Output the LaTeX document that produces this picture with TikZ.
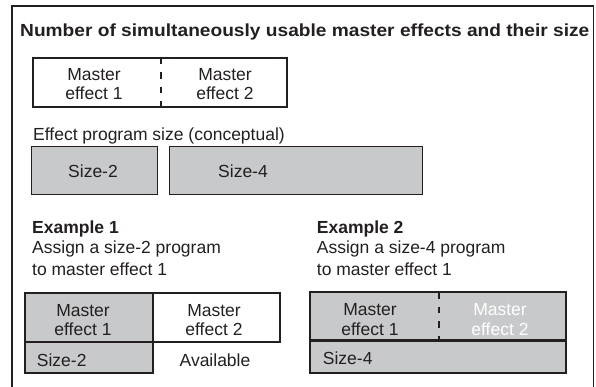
\documentclass[tikz,border=0pt]{standalone}
\usepackage{fontspec}
\setmainfont{Liberation Sans}
\usepackage{graphicx}
\definecolor{boxgray}{RGB}{200,201,203}
\definecolor{ink}{RGB}{35,31,32}
\begin{document}
\begin{tikzpicture}[x=1pt,y=-1pt,
  txt/.style={inner sep=0pt, anchor=base, font=\fontsize{17.5}{21}\selectfont, text=ink},
  txtl/.style={txt, anchor=base west},
  boldl/.style={txtl, font=\fontsize{17.5}{21}\selectfont\bfseries},
  frame/.style={draw=ink, line width=1.8pt},
  graybox/.style={draw=ink, fill=boxgray, line width=1pt},
  tablebox/.style={draw=ink, line width=2.6pt},
  divider/.style={draw=ink, line width=2pt, dash pattern=on 6.5pt off 8pt}
]
\useasboundingbox (0,0) rectangle (596,387);
% outer frame (open at the bottom)
\draw[frame] (12,387) -- (12,6) -- (593.5,6) -- (593.5,387);
% title
\node[boldl] (title) at (20,37) {\scalebox{1.094}[1]{Number of simultaneously usable master effects and their size}};
% top master box
\draw[draw=ink, line width=1.8pt] (32.7,58) rectangle (287,107);
\draw[divider] (160.7,58) -- (160.7,107);
\node[txt] (tm1a) at (94,81) {Master};
\node[txt] (tm1b) at (94,100) {effect 1};
\node[txt] (tm2a) at (225,81) {Master};
\node[txt] (tm2b) at (225,100) {effect 2};
% effect program size
\node[txtl] (eps) at (33,140.5) {Effect program size (conceptual)};
\draw[graybox] (31.7,147) rectangle (157.7,195);
\draw[graybox] (169,147) rectangle (422,195);
\node[txt] (s2) at (93,178) {Size-2};
\node[txt] (s4) at (243,178) {Size-4};
% Example 1
\node[boldl] (ex1) at (32,233.5) {Example 1};
\node[txtl] (ex1a) at (32,253.5) {Assign a size-2 program};
\node[txtl] (ex1b) at (32,275) {to master effect 1};
\fill[boxgray] (25,293) rectangle (153,373);
\draw[tablebox] (25,342) -- (25,293) -- (280,293) -- (280,342) -- (25,342);
\draw[tablebox] (153,293) -- (153,373) -- (25,373) -- (25,342);
\node[txt] (e1m1a) at (83,316.5) {Master};
\node[txt] (e1m1b) at (83,335.5) {effect 1};
\node[txt] (e1m2a) at (214,316.5) {Master};
\node[txt] (e1m2b) at (214,335.5) {effect 2};
\node[txtl] (e1s) at (36.7,366) {Size-2};
\node[txt] (e1av) at (215,366.5) {Available};
% Example 2
\node[boldl] (ex2) at (316.7,233.5) {Example 2};
\node[txtl] (ex2a) at (316.7,253.5) {Assign a size-4 program};
\node[txtl] (ex2b) at (316.7,275) {to master effect 1};
\draw[tablebox, fill=boxgray] (310,292) rectangle (566,373);
\draw[tablebox] (310,340.5) -- (566,340.5);
\draw[divider] (438.7,292) -- (438.7,340.5);
\node[txt] (e2m1a) at (370,315) {Master};
\node[txt] (e2m1b) at (370,335) {effect 1};
\node[txt, text=white] (e2m2a) at (500,315) {Master};
\node[txt, text=white] (e2m2b) at (500,335) {effect 2};
\node[txtl] (e2s) at (322.7,364.5) {Size-4};
\end{tikzpicture}
\end{document}
